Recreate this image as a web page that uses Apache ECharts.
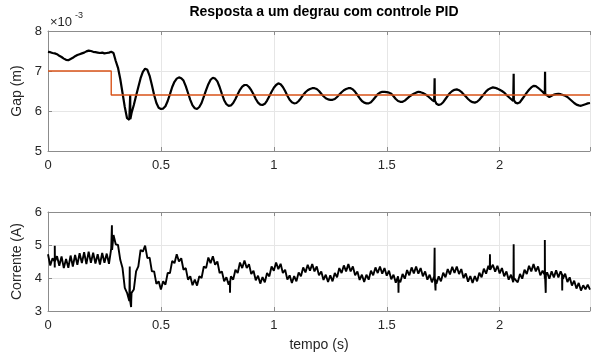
<!DOCTYPE html>
<html>
<head>
<meta charset="utf-8">
<script src="https://cdn.jsdelivr.net/npm/echarts@6/dist/echarts.min.js"></script>
<style>
html,body{margin:0;padding:0;background:#fff;}
#chart{width:593px;height:361px;}
</style>
</head>
<body>
<div id="chart"></div>
<script>
// time step of the sampled series (s)
const timeStep = 0.01;
const xTicks = [0, 0.5, 1, 1.5, 2];

// Gap (x 10^-3 m), sampled every 0.01 s from t = 0
const gap = [
  7.48,7.47,7.45,7.44,7.42,7.38,7.35,7.31,7.28,7.27,
  7.30,7.33,7.37,7.40,7.42,7.44,7.46,7.49,7.51,7.50,
  7.48,7.47,7.46,7.45,7.46,7.44,7.45,7.46,7.48,7.45,
  7.25,7.08,6.80,6.45,6.10,5.82,5.78,5.95,6.15,6.38,
  6.60,6.82,6.98,7.06,7.03,6.88,6.65,6.40,6.20,6.08,
  6.05,6.06,6.12,6.25,6.42,6.60,6.73,6.81,6.84,6.82,
  6.76,6.62,6.45,6.28,6.14,6.07,6.05,6.10,6.20,6.36,
  6.52,6.67,6.78,6.83,6.81,6.74,6.60,6.43,6.27,6.17,
  6.13,6.14,6.20,6.30,6.42,6.53,6.61,6.65,6.65,6.60,
  6.52,6.42,6.30,6.21,6.16,6.15,6.18,6.26,6.37,6.48,
  6.58,6.65,6.69,6.67,6.60,6.50,6.38,6.28,6.22,6.19,
  6.20,6.25,6.32,6.40,6.47,6.52,6.55,6.57,6.57,6.55,
  6.50,6.43,6.37,6.32,6.29,6.28,6.28,6.30,6.35,6.41,
  6.47,6.52,6.55,6.57,6.57,6.54,6.48,6.40,6.32,6.25,
  6.21,6.19,6.19,6.22,6.28,6.35,6.42,6.46,6.48,6.48,
  6.47,6.46,6.43,6.37,6.30,6.25,6.23,6.23,6.26,6.31,
  6.36,6.40,6.43,6.46,6.48,6.47,6.45,6.42,6.38,6.33,
  6.28,6.24,6.18,6.15,6.17,6.22,6.30,6.38,6.45,6.50,
  6.53,6.54,6.52,6.48,6.42,6.36,6.30,6.25,6.22,6.21,
  6.23,6.28,6.35,6.42,6.49,6.54,6.57,6.59,6.58,6.56,
  6.53,6.50,6.46,6.40,6.35,6.30,6.25,6.21,6.19,6.22,
  6.30,6.38,6.46,6.53,6.59,6.63,6.62,6.58,6.53,6.48,
  6.42,6.37,6.35,6.38,6.41,6.42,6.43,6.42,6.40,6.38,
  6.35,6.30,6.25,6.20,6.16,6.14,6.13,6.15,6.17,6.19,
  6.20
];
// narrow spikes in the gap signal: [time, base, peak]
const gapSpikes = [
  [0.364, 5.80, 6.40],
  [1.712, 6.26, 6.82],
  [2.062, 6.27, 6.93],
  [2.201, 6.42, 6.98]
];

// Reference (setpoint) step, x 10^-3 m
const refTimes  = [0, 0.28, 0.28, 2.4];
const refValues = [7.0, 7.0, 6.4, 6.4];

// Corrente (A), sampled every 0.01 s from t = 0
const corrente = [
  4.72,4.38,4.60,4.32,4.66,4.37,4.65,4.30,4.58,4.31,
  4.68,4.35,4.70,4.40,4.75,4.45,4.78,4.42,4.80,4.46,
  4.77,4.44,4.72,4.41,4.76,4.46,4.74,4.43,4.90,5.30,
  5.02,5.00,4.55,4.30,3.70,3.55,3.30,3.55,3.65,4.20,
  4.35,4.85,4.80,4.98,4.60,4.62,4.20,4.20,3.82,3.90,
  3.65,3.90,3.80,4.15,4.15,4.52,4.45,4.72,4.50,4.60,
  4.25,4.30,3.95,4.05,3.78,3.95,3.77,4.05,4.00,4.35,
  4.30,4.62,4.45,4.66,4.40,4.50,4.15,4.20,3.90,4.02,
  3.80,4.05,3.95,4.25,4.15,4.47,4.30,4.53,4.30,4.42,
  4.12,4.22,3.93,4.07,3.83,4.03,3.87,4.15,4.05,4.35,
  4.22,4.47,4.27,4.43,4.15,4.25,3.95,4.08,3.85,4.06,
  3.90,4.17,4.05,4.32,4.17,4.40,4.22,4.42,4.20,4.35,
  4.08,4.20,3.94,4.10,3.88,4.08,3.90,4.15,4.02,4.30,
  4.15,4.38,4.20,4.42,4.20,4.35,4.08,4.20,3.94,4.10,
  3.88,4.10,3.95,4.22,4.08,4.32,4.15,4.35,4.13,4.30,
  4.07,4.22,3.96,4.10,3.86,4.05,3.87,4.12,3.98,4.24,
  4.08,4.32,4.14,4.35,4.13,4.30,4.05,4.20,3.95,4.10,
  3.87,4.05,3.83,4.05,3.90,4.16,4.02,4.27,4.11,4.34,
  4.15,4.35,4.12,4.27,4.00,4.14,3.89,4.06,3.85,4.06,
  3.90,4.16,4.02,4.28,4.13,4.37,4.19,4.40,4.19,4.37,
  4.14,4.30,4.05,4.20,3.95,4.10,3.87,4.05,3.87,4.12,
  3.98,4.25,4.12,4.37,4.20,4.42,4.20,4.35,4.08,4.22,
  3.98,4.17,3.98,4.20,4.02,4.23,4.02,4.20,3.97,4.13,
  3.88,4.02,3.77,3.92,3.68,3.85,3.62,3.78,3.66,3.80,
  3.65
];
// narrow spikes in the current signal: [time, base, peak]
const correnteSpikes = [
  [0.030, 4.50, 4.98],
  [0.283, 4.85, 5.60],
  [0.362, 3.35, 4.35],
  [0.368, 3.35, 3.12],
  [0.806, 3.90, 3.55],
  [1.552, 3.95, 3.55],
  [1.712, 4.00, 4.92],
  [1.716, 3.95, 3.62],
  [1.957, 4.25, 4.72],
  [2.062, 4.00, 5.02],
  [2.200, 4.10, 5.15],
  [2.204, 4.10, 3.55],
  [2.277, 4.10, 3.62]
];

function buildSeries(values, spikes) {
  const pts = values.map((v, i) => [+(i * timeStep).toFixed(3), v]);
  spikes.forEach(s => {
    pts.push([s[0] - 0.0008, s[1]], [s[0], s[2]], [s[0] + 0.0008, s[1]]);
  });
  pts.sort((a, b) => a[0] - b[0]);
  return pts;
}

const FONT = '"Liberation Sans", Arial, Helvetica, sans-serif';
const TXT = '#262626';
const AX = '#8c8c8c';
const GRIDC = '#e6e6e6';

function xAx(gridIndex, bottom, name) {
  return {
    type: 'value', gridIndex, position: bottom ? 'bottom' : 'top',
    min: 0, max: 2.4, interval: 0.5,
    name: name || '', nameLocation: 'middle', nameGap: 27,
    nameTextStyle: { fontFamily: FONT, fontSize: 14, color: TXT },
    axisLine: { show: true, onZero: false, lineStyle: { color: AX, width: 1 } },
    axisTick: { show: true, inside: true, length: 4, lineStyle: { color: AX } },
    axisLabel: {
      show: bottom, margin: 8, fontFamily: FONT, fontSize: 13, color: TXT,
      formatter: v => xTicks.indexOf(v) >= 0 ? String(v) : ''
    },
    splitLine: { show: bottom, lineStyle: { color: GRIDC, width: 1 } }
  };
}
function yAx(gridIndex, min, max, name) {
  return {
    type: 'value', gridIndex, min, max, interval: 1,
    name, nameLocation: 'middle', nameGap: 21, nameRotate: 90,
    nameTextStyle: { fontFamily: FONT, fontSize: 14, color: TXT },
    axisLine: { show: true, onZero: false, lineStyle: { color: AX, width: 1 } },
    axisTick: { show: true, inside: true, length: 4, lineStyle: { color: AX } },
    axisLabel: { margin: 6, fontFamily: FONT, fontSize: 13, color: TXT },
    splitLine: { show: true, lineStyle: { color: GRIDC, width: 1 } }
  };
}

const chart = echarts.init(document.getElementById('chart'), null, { renderer: 'canvas' });
chart.setOption({
  animation: false,
  backgroundColor: '#fff',
  grid: [
    { left: 48, top: 31, width: 552, height: 120 },
    { left: 48, top: 212, width: 552, height: 99 }
  ],
  xAxis: [
    xAx(0, true), xAx(0, false),
    xAx(1, true, 'tempo (s)'), xAx(1, false)
  ],
  yAxis: [
    yAx(0, 5, 8, 'Gap (m)'),
    yAx(1, 3, 6, 'Corrente (A)')
  ],
  graphic: [
    { type: 'text', x: 324, y: 5,
      style: { text: 'Resposta a um degrau com controle PID', font: 'bold 14px ' + FONT,
               fill: '#000', align: 'center', textAlign: 'center', verticalAlign: 'top' } },
    { type: 'text', x: 50, y: 16,
      style: { text: '\u00d710', font: '13px ' + FONT, fill: TXT, verticalAlign: 'top' } },
    { type: 'text', x: 75, y: 11,
      style: { text: '-3', font: '9px ' + FONT, fill: TXT, verticalAlign: 'top' } }
  ],
  series: [
    { type: 'line', xAxisIndex: 0, yAxisIndex: 0, showSymbol: false, symbol: 'none',
      data: buildSeries(gap, gapSpikes), lineStyle: { color: '#000', width: 2.2 }, z: 3 },
    { type: 'line', xAxisIndex: 0, yAxisIndex: 0, showSymbol: false, symbol: 'none',
      data: refTimes.map((t, i) => [t, refValues[i]]), lineStyle: { color: '#D95319', width: 1.4 }, z: 4 },
    { type: 'line', xAxisIndex: 2, yAxisIndex: 1, showSymbol: false, symbol: 'none',
      data: buildSeries(corrente, correnteSpikes), lineStyle: { color: '#000', width: 1.9 }, z: 3 }
  ]
});
</script>
</body>
</html>
